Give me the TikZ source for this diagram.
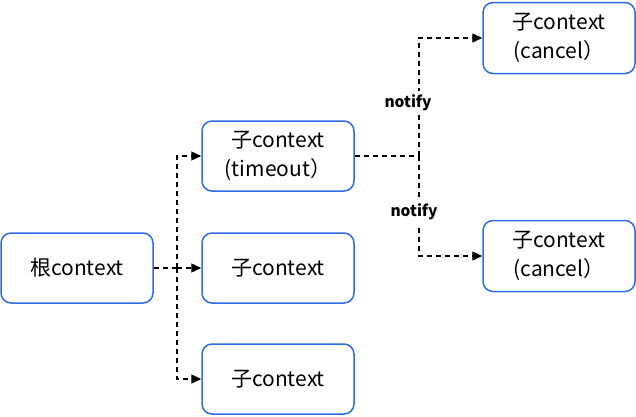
\documentclass[tikz,border=0pt]{standalone}
\usepackage{fontspec}
\setmainfont{Noto Sans CJK SC}
\usetikzlibrary{arrows.meta}
\definecolor{boxblue}{HTML}{2F6BE6}
\newcommand\mytightlines{\lineskiplimit=-20pt\relax}
\tikzset{
  ctx/.style={draw=boxblue, line width=1.5pt, rounded corners=10pt, minimum width=152pt, minimum height=70pt, align=center, font=\fontsize{21}{29}\selectfont\mytightlines, inner sep=0pt},
  conn/.style={dashed, dash pattern=on 5pt off 4pt, line width=1.4pt, -{Triangle[length=10pt,width=9pt]}},
  plain/.style={dashed, dash pattern=on 5pt off 4pt, line width=1.5pt},
  lbl/.style={fill=white, font=\bfseries\fontsize{15.5}{18}\selectfont, inner sep=4pt}
}
\begin{document}
\begin{tikzpicture}[x=1pt,y=-1pt]
\useasboundingbox (0,0) rectangle (636,416);
\node[ctx] (root) at (77,268) {根context};
\node[ctx] (c1) at (278,156) {子context\\(timeout）};
\node[ctx] (c2) at (278,268) {子context};
\node[ctx] (c3) at (278,379) {子context};
\node[ctx, minimum height=71pt] (k1) at (559,38) {子context\\(cancel）};
\node[ctx, minimum height=71pt] (k2) at (559,256) {子context\\(cancel）};
\coordinate (b) at (177,268);
\coordinate (j) at (419,156);
\draw[plain] (root.east) -- (b);
\draw[conn] (b) |- (c1.west);
\draw[conn] (b) -- (c2.west);
\draw[conn] (b) |- (c3.west);
\draw[plain] (c1.east) -- (j);
\draw[conn] (j) |- (k1.west);
\draw[conn] (j) |- (k2.west);
\node[lbl] (n1) at (408,103) {notify};
\node[lbl] (n2) at (414,212) {notify};
\end{tikzpicture}
\end{document}
